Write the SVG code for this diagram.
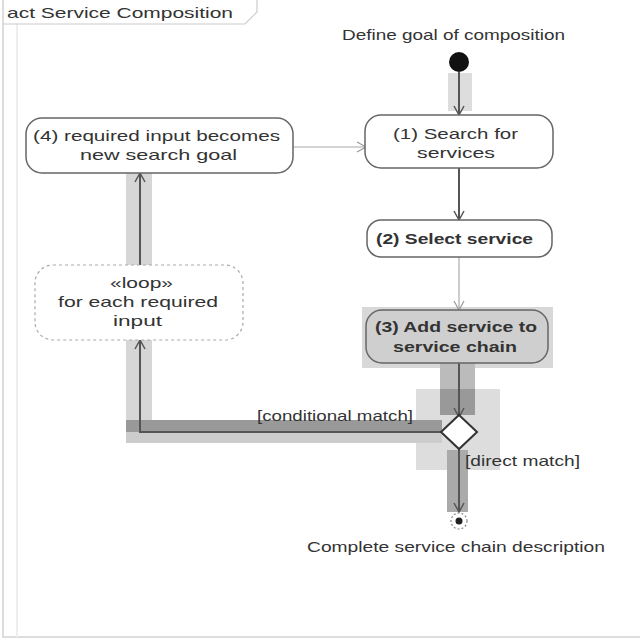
<svg xmlns="http://www.w3.org/2000/svg" width="640" height="640" viewBox="0 0 640 640">
<defs>
<style>
text{font-family:"Liberation Sans",Arial,sans-serif;font-size:15px;fill:#333}
.b{font-weight:bold}
.node{fill:#fff;stroke:#666;stroke-width:1.5}
.c{fill:none;stroke:#555;stroke-width:2}
.cl{fill:none;stroke:#aaa;stroke-width:1.2}
</style>
<marker id="ah" markerWidth="12" markerHeight="12" refX="10" refY="6" orient="auto" markerUnits="userSpaceOnUse">
<path d="M1,1 L10,6 L1,11" fill="none" stroke="#555" stroke-width="1.5"/>
</marker>
<marker id="ahl" markerWidth="12" markerHeight="12" refX="10" refY="6" orient="auto" markerUnits="userSpaceOnUse">
<path d="M1,1 L10,6 L1,11" fill="none" stroke="#999" stroke-width="1.2"/>
</marker>
</defs>
<rect width="640" height="640" fill="#fff"/>
<g id="frame">
<rect x="3" y="-2" width="640" height="639" fill="none" stroke="#ddd" stroke-width="2"/>
<line x1="17" y1="24" x2="17" y2="637" stroke="#eee" stroke-width="2"/>
<path d="M3,24 L245,24 L257,12 L257,-2" fill="none" stroke="#ccc" stroke-width="1.2"/>
<text x="7" y="18" textLength="226" lengthAdjust="spacingAndGlyphs" fill="#555">act Service Composition</text>
</g>
<g id="highlights">
<rect x="448" y="73" width="24" height="38" fill="#ddd"/>
<rect x="126" y="173" width="26" height="270" fill="#d6d6d6"/>
<rect x="362" y="307" width="191" height="61" fill="#d8d8d8"/>
<rect x="440" y="363" width="35" height="52" fill="#bbb"/>
<rect x="416" y="389" width="84" height="81" fill="#ddd"/>
<rect x="440" y="389" width="35" height="26" fill="#999"/>
<rect x="126" y="420" width="316" height="23" fill="#ccc"/>
<rect x="126" y="420" width="316" height="12" fill="#999"/>
<rect x="447" y="450" width="21" height="62" fill="#aaa"/>
</g>
<g id="connectors">
<line class="c" x1="459" y1="72" x2="459" y2="115" marker-end="url(#ah)"/>
<line class="c" x1="459" y1="168" x2="459" y2="220" marker-end="url(#ah)"/>
<line class="cl" x1="459" y1="257" x2="459" y2="310" marker-end="url(#ahl)"/>
<line class="c" x1="459" y1="363" x2="459" y2="417" stroke="#333" marker-end="url(#ah)"/>
<polyline class="c" points="442,432 140,432 140,340" marker-end="url(#ah)"/>
<line class="c" x1="140" y1="265" x2="140" y2="173" marker-end="url(#ah)"/>
<line class="cl" x1="293" y1="147" x2="366" y2="147" marker-end="url(#ahl)"/>
<line class="c" x1="459" y1="447" x2="459" y2="512" stroke="#333" marker-end="url(#ah)"/>
<text x="257" y="421" textLength="156" lengthAdjust="spacingAndGlyphs">[conditional match]</text>
<text x="465" y="466" textLength="115" lengthAdjust="spacingAndGlyphs">[direct match]</text>
</g>
<g id="initial">
<circle cx="459" cy="62" r="10" fill="#111"/>
<text x="342" y="40" textLength="223" lengthAdjust="spacingAndGlyphs" fill="#999">Define goal of composition</text>
</g>
<g id="n1">
<rect class="node" x="365" y="115" width="188" height="53" rx="16"/>
<text x="393" y="139" textLength="125" lengthAdjust="spacingAndGlyphs">(1) Search for</text>
<text x="417" y="158" textLength="78" lengthAdjust="spacingAndGlyphs">services</text>
</g>
<g id="n2">
<rect class="node" x="367" y="220" width="185" height="37" rx="14"/>
<text class="b" x="376" y="244" textLength="157" lengthAdjust="spacingAndGlyphs">(2) Select service</text>
</g>
<g id="n3">
<rect class="node" x="366" y="310" width="182" height="53" rx="16" fill="#ccc" style="fill:#cfcfcf"/>
<text class="b" x="375" y="332" textLength="162" lengthAdjust="spacingAndGlyphs">(3) Add service to</text>
<text class="b" x="393" y="352" textLength="124" lengthAdjust="spacingAndGlyphs">service chain</text>
</g>
<g id="n4">
<rect class="node" x="26" y="118" width="267" height="55" rx="16"/>
<text x="33" y="141" textLength="247" lengthAdjust="spacingAndGlyphs">(4) required input becomes</text>
<text x="80" y="160" textLength="157" lengthAdjust="spacingAndGlyphs">new search goal</text>
</g>
<g id="loop">
<rect x="35" y="265" width="208" height="75" rx="18" fill="#fff" stroke="#aaa" stroke-width="1.2" stroke-dasharray="3,3"/>
<text x="110" y="288" textLength="63" lengthAdjust="spacingAndGlyphs" fill="#666">«loop»</text>
<text x="58" y="307" textLength="160" lengthAdjust="spacingAndGlyphs" fill="#666">for each required</text>
<text x="113" y="326" textLength="49" lengthAdjust="spacingAndGlyphs" fill="#666">input</text>
</g>
<g id="decision">
<polygon points="459,415 477,432 459,449 441,432" fill="#fff" stroke="#333" stroke-width="2"/>
</g>
<g id="final">
<circle cx="459" cy="521" r="8" fill="#fff" stroke="#888" stroke-width="1.2" stroke-dasharray="2,2"/>
<circle cx="459" cy="521" r="3.5" fill="#222"/>
<text x="307" y="552" textLength="298" lengthAdjust="spacingAndGlyphs" fill="#444">Complete service chain description</text>
</g>
</svg>
